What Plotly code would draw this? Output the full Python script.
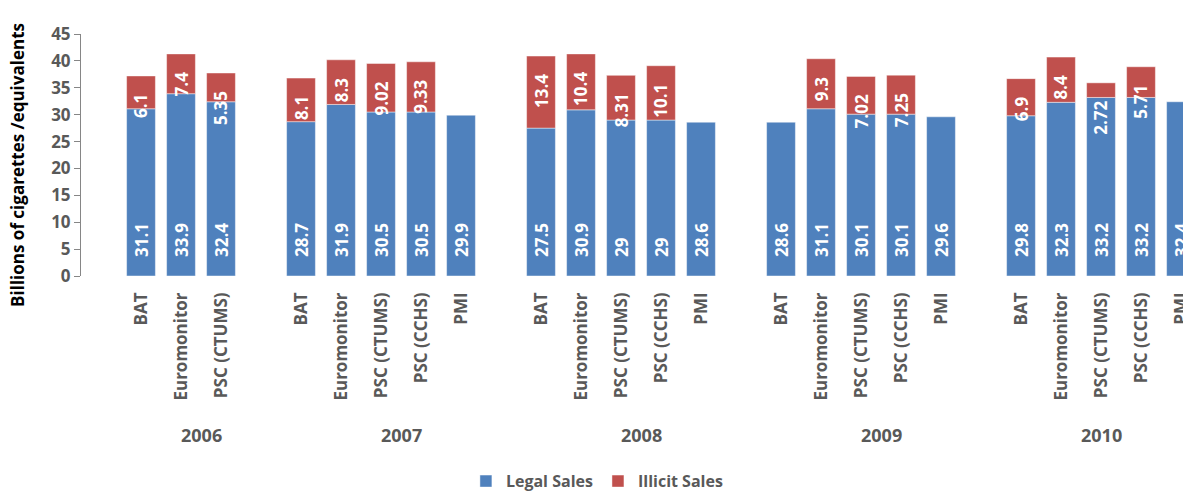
import plotly.graph_objects as go

# ---- data ----
years = ["2006", "2007", "2008", "2009", "2010"]
sources_2006 = ["BAT", "Euromonitor", "PSC (CTUMS)"]
sources_other = ["BAT", "Euromonitor", "PSC (CTUMS)", "PSC (CCHS)", "PMI"]
sources = [sources_2006, sources_other, sources_other, sources_other, sources_other]

legal_2006 = [31.1, 33.9, 32.4]
legal_2007 = [28.7, 31.9, 30.5, 30.5, 29.9]
legal_2008 = [27.5, 30.9, 29, 29, 28.6]
legal_2009 = [28.6, 31.1, 30.1, 30.1, 29.6]
legal_2010 = [29.8, 32.3, 33.2, 33.2, 32.4]

illicit_2006 = [6.1, 7.4, 5.35]
illicit_2007 = [8.1, 8.3, 9.02, 9.33, None]
illicit_2008 = [13.4, 10.4, 8.31, 10.1, None]
illicit_2009 = [None, 9.3, 7.02, 7.25, None]
illicit_2010 = [6.9, 8.4, 2.72, 5.71, None]

legal = [legal_2006, legal_2007, legal_2008, legal_2009, legal_2010]
illicit = [illicit_2006, illicit_2007, illicit_2008, illicit_2009, illicit_2010]

y_ticks = [0, 5, 10, 15, 20, 25, 30, 35, 40, 45]

BLUE = "#4F81BD"
RED = "#C0504D"
GREY = "#595959"
FONT = "Open Sans"

# ---- build category slots (blank separator after every year except last) ----
keys, ticktext = [], []
xs, legal_y, illicit_x, illicit_y = [], [], [], []
group_center = []
for gi, yr in enumerate(years):
    start = len(keys)
    for src, lv, iv in zip(sources[gi], legal[gi], illicit[gi]):
        k = f"{yr} {src}"
        keys.append(k)
        ticktext.append(src)
        xs.append(k)
        legal_y.append(lv)
        if iv is not None:
            illicit_x.append(k)
            illicit_y.append((lv, iv))
    if gi < len(years) - 1:
        keys.append(f"{yr} gap")
        ticktext.append("")
    group_center.append((start + len(keys) - 1) / 2)

fig = go.Figure()
fig.add_trace(go.Bar(
    name="Legal Sales", x=xs, y=legal_y,
    marker=dict(color=BLUE, line=dict(color="rgba(255,255,255,0.45)", width=1)),
))
fig.add_trace(go.Bar(
    name="Illicit Sales", x=illicit_x, y=[v for _, v in illicit_y],
    base=[b for b, _ in illicit_y],
    marker=dict(color=RED, line=dict(color="rgba(255,255,255,0.45)", width=1)),
))

annotations = []
label_font = dict(family=FONT, size=17, color="white", weight="bold")
for k, lv in zip(xs, legal_y):
    annotations.append(dict(x=k, y=0, xref="x", yref="y", text=f"{lv:g}",
                            textangle=-90, yanchor="bottom", xanchor="center",
                            yshift=17, showarrow=False, font=label_font))
for k, (lv, iv) in zip(illicit_x, illicit_y):
    annotations.append(dict(x=k, y=lv + iv, xref="x", yref="y", text=f"{iv:g}",
                            textangle=-90, yanchor="top", xanchor="center",
                            yshift=-16, showarrow=False, font=label_font))
for yr, c in zip(years, group_center):
    annotations.append(dict(x=c, y=-0.657, xref="x", yref="paper", text=yr,
                            showarrow=False, yanchor="middle", xanchor="center",
                            font=dict(family=FONT, size=18, color=GREY, weight="bold")))
annotations.append(dict(x=-0.0572, y=0.459, xref="paper", yref="paper",
                        text="Billions of cigarettes /equivalents", textangle=-90,
                        showarrow=False, xanchor="center", yanchor="middle",
                        font=dict(family=FONT, size=17, color="black", weight="bold")))

fig.update_layout(
    width=1183, height=491, autosize=False,
    margin=dict(l=81, r=0, t=34, b=215, autoexpand=False),
    paper_bgcolor="white", plot_bgcolor="white",
    barmode="overlay", bargap=0.28,
    showlegend=True,
    legend=dict(orientation="h", xref="container", yref="container",
                x=0.505, xanchor="center", y=0.02, yanchor="middle",
                itemwidth=30,
                font=dict(family=FONT, size=16, color=GREY, weight="bold"),
                itemclick=False),
    annotations=annotations,
    font=dict(family=FONT),
)
fig.update_xaxes(
    type="category", categoryorder="array", categoryarray=keys,
    tickmode="array", tickvals=keys, ticktext=ticktext,
    tickangle=-90, ticks="", showline=False, showgrid=False, zeroline=False,
    range=[-1.5, 26.05], automargin=False, ticklabelstandoff=12,
    tickfont=dict(family=FONT, size=17, color=GREY, weight="bold"),
)
fig.update_yaxes(
    range=[0, 45], tickmode="array", tickvals=y_ticks,
    showline=True, linecolor="#868686", linewidth=1,
    ticks="outside", ticklen=6, tickcolor="#868686",
    showgrid=False, zeroline=False, automargin=False,
    tickfont=dict(family=FONT, size=17, color=GREY, weight="bold"),
)

fig.write_html(
    "out.html",
    config={"displayModeBar": False},
    post_script="document.body.style.margin='0';document.body.style.overflow='hidden';",
)
